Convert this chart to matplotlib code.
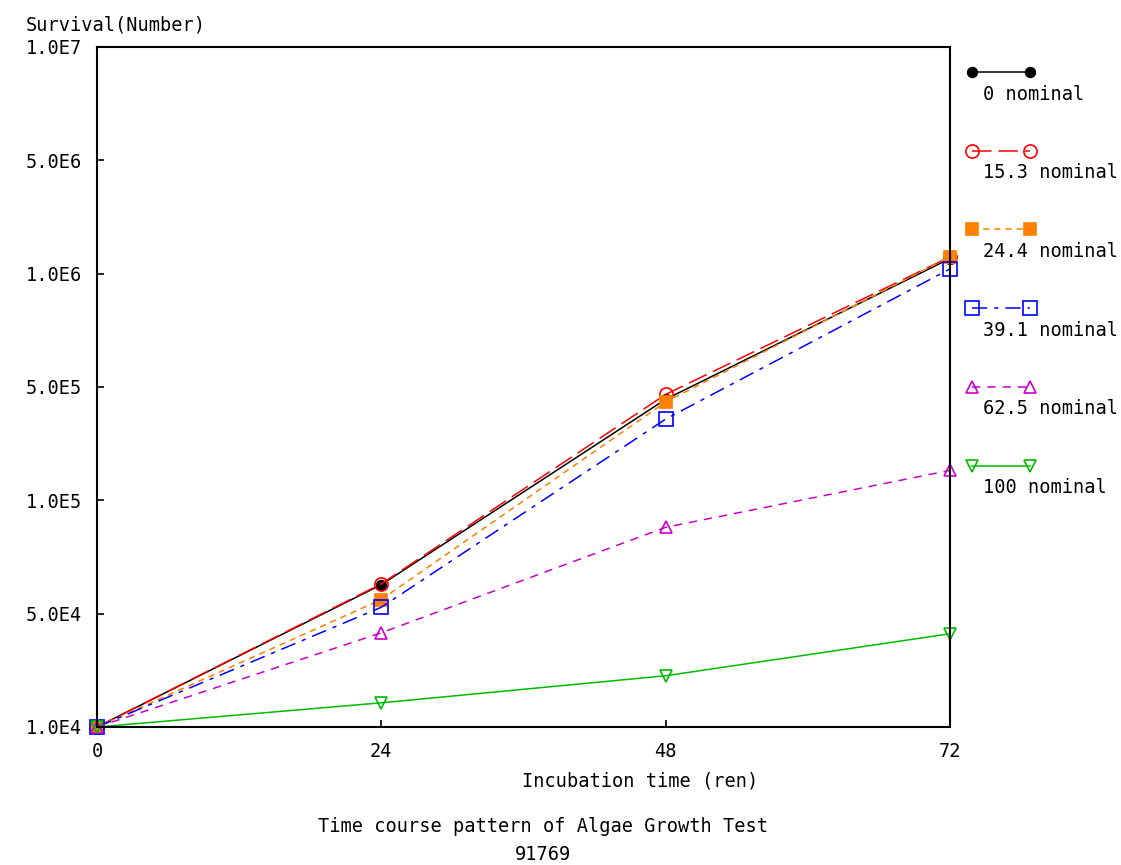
import numpy as np
import matplotlib
matplotlib.use("Agg")
import matplotlib.pyplot as plt
from matplotlib.lines import Line2D

plt.rcParams['font.family'] = ['DejaVu Sans Mono']
plt.rcParams['lines.scale_dashes'] = False

# data
hours = [0, 24, 48, 72]
labels = ["0 nominal", "15.3 nominal", "24.4 nominal", "39.1 nominal",
          "62.5 nominal", "100 nominal"]
conc_0 = [1.0e4, 5.97e4, 4.2e5, 1.24e6]
conc_15 = [1.0e4, 6.0e4, 4.5e5, 1.27e6]
conc_24 = [1.0e4, 5.45e4, 4.04e5, 1.27e6]
conc_39 = [1.0e4, 5.2e4, 3.17e5, 1.07e6]
conc_62 = [1.0e4, 3.81e4, 8.48e4, 1.53e5]
conc_100 = [1.0e4, 1.41e4, 2.07e4, 3.76e4]
yticks = [1e4, 5e4, 1e5, 5e5, 1e6, 5e6, 1e7]
ytick_labels = ["1.0E4", "5.0E4", "1.0E5", "5.0E5", "1.0E6", "5.0E6", "1.0E7"]

series = [conc_0, conc_15, conc_24, conc_39, conc_62, conc_100]

# axis: each 1 / 5 step gets the same height, log inside each step
L5 = np.log10(5)

def fwd(v):
    v = np.clip(np.asarray(v, dtype=float), 1e-300, None)
    lg = np.log10(v)
    d = np.floor(lg)
    f = lg - d
    u = np.where(f < L5, f / L5, 1 + (f - L5) / (1 - L5))
    return 2 * (d - 4) + u

def inv(u):
    u = np.asarray(u, dtype=float)
    d = np.floor(u / 2)
    r = u - 2 * d
    lg = 4 + d + np.where(r < 1, r * L5, L5 + (r - 1) * (1 - L5))
    return 10 ** lg

styles = [
    dict(color="black", ls="-", marker="o", mfc="black", ms=7),
    dict(color="red", ls=(0, (14, 5)), marker="o", mfc="none", ms=9.5),
    dict(color="#ff8000", ls=(0, (4.5, 3.5)), marker="s", mfc="#ff8000", ms=8),
    dict(color="blue", ls=(0, (11, 5, 3, 5)), marker="s", mfc="none", ms=9.5),
    dict(color="#cc00cc", ls=(0, (6, 5)), marker="^", mfc="none", ms=9),
    dict(color="#00bb00", ls="-", marker="v", mfc="none", ms=9),
]

fig = plt.figure(figsize=(11.21, 8.65), dpi=100)
ax = fig.add_axes([97/1121, 1-727/865, 853/1121, 680/865])
ax.set_yscale('function', functions=(fwd, inv))

for vals, st in zip(series, styles):
    ax.plot(hours, vals, color=st["color"], ls=st["ls"], lw=1.1,
            marker=st["marker"], mfc=st["mfc"], mec=st["color"], ms=st["ms"],
            mew=1.2, clip_on=False)

ax.set_xlim(0, 72)
ax.set_ylim(1e4, 1e7)
ax.set_xticks(hours)
ax.set_xticklabels([str(h) for h in hours], fontsize=13.4)
ax.set_yticks(yticks)
ax.set_yticklabels(ytick_labels, fontsize=13.4)
ax.minorticks_off()
ax.tick_params(direction='in', length=5, width=1.2, pad=11, top=False, right=False)
for s in ax.spines.values():
    s.set_linewidth(1.5)

fig.text(26/1121, 1-25/865, "Survival(Number)", fontsize=13.4, va='center')
fig.text(640/1121, 1-781/865, "Incubation time (ren)", fontsize=13.4,
         ha='center', va='center')
fig.text(543/1121, 1-826/865, "Time course pattern of Algae Growth Test",
         fontsize=13.4, ha='center', va='center')
fig.text(543/1121, 1-855/865, "91769", fontsize=13.4, ha='center', va='center')

# legend drawn outside on the right
for i, (lab, st) in enumerate(zip(labels, styles)):
    yl = 1 - (72 + i * 78.7) / 865
    fig.add_artist(Line2D([972/1121, 1030/1121], [yl, yl], transform=fig.transFigure,
                          color=st["color"], ls=st["ls"], lw=1.1, marker=st["marker"],
                          mfc=st["mfc"], mec=st["color"], ms=st["ms"], mew=1.2))
    fig.text(983/1121, yl - 22/865, lab, fontsize=13.4, va='center')

fig.savefig("out.png", dpi=100)
